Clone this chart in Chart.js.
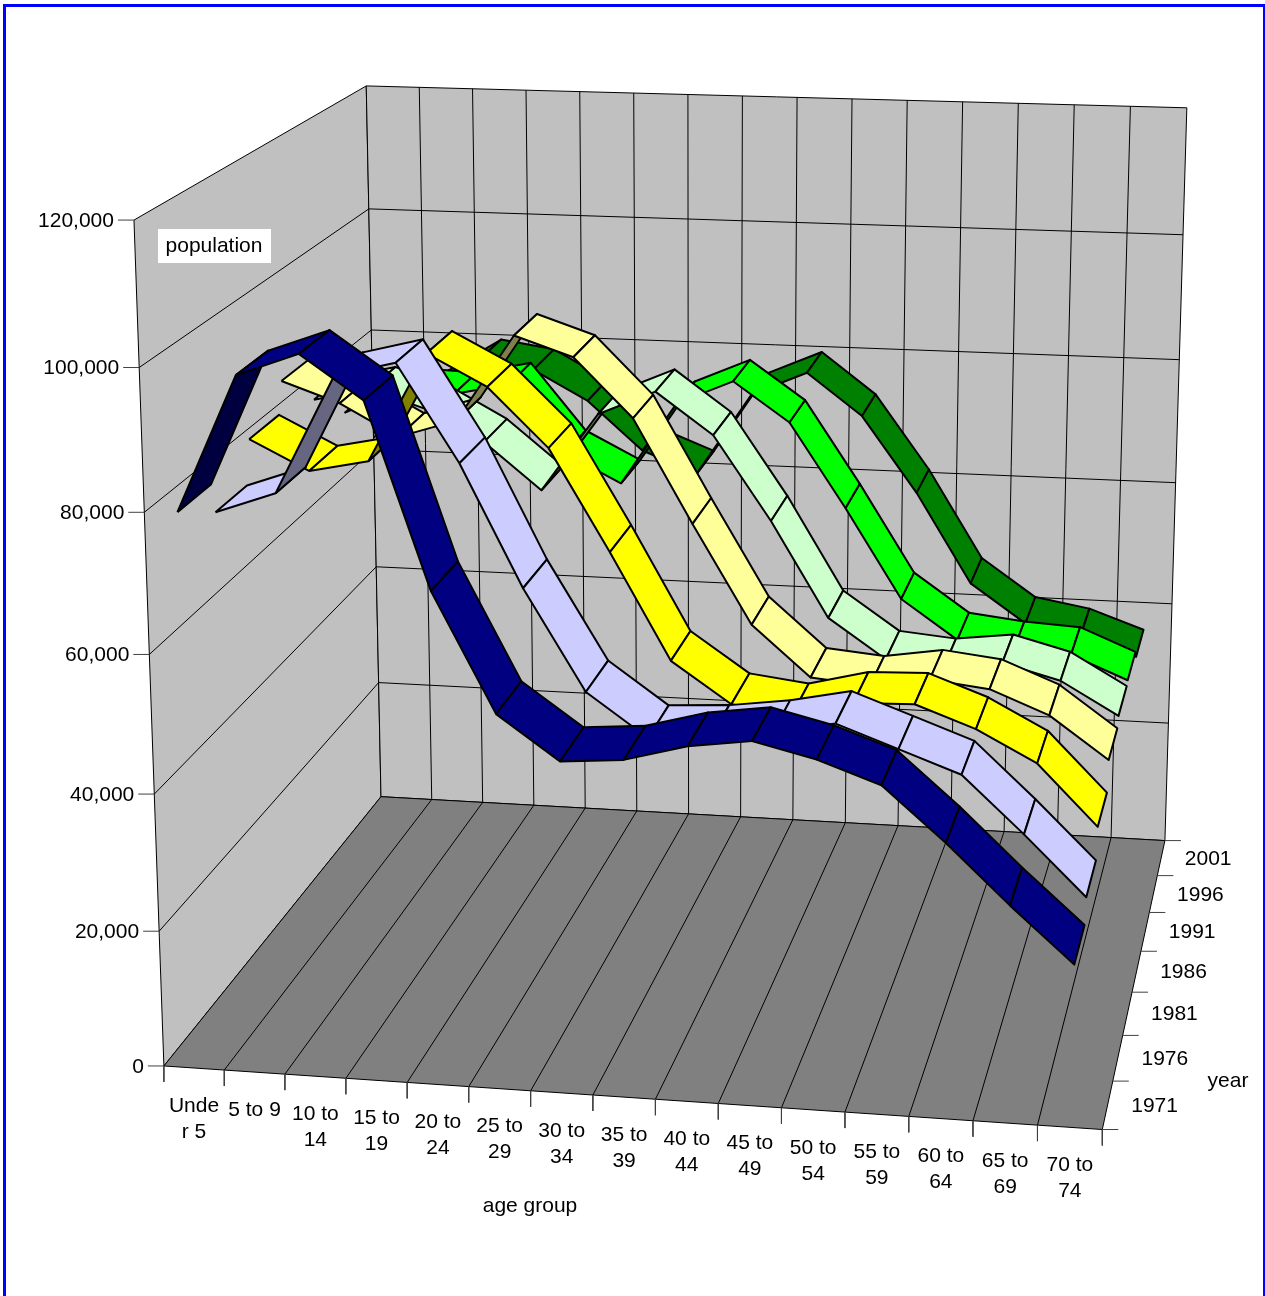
<!DOCTYPE html>
<html>
<head>
<meta charset="utf-8">
<title>population by age group and year</title>
<script src="https://cdn.jsdelivr.net/npm/chart.js@4"></script>
<style>
  html, body { margin: 0; padding: 0; background: #fff; overflow: hidden; }
  #page { position: relative; width: 1265px; height: 1296px; overflow: hidden; }
  #frame { position: absolute; left: 3px; top: 4px; width: 1257px; height: 1400px; border: 3px solid #0000ff; }
  #c { position: absolute; left: 0; top: 0; }
</style>
</head>
<body>
<div id="page">
  <div id="frame"></div>
  <canvas id="c" width="1265" height="1296"></canvas>
</div>
<script>
// Chart values
const categories = [['Unde', 'r 5'], ['5 to 9'], ['10 to', '14'], ['15 to', '19'], ['20 to', '24'], ['25 to', '29'],
    ['30 to', '34'], ['35 to', '39'], ['40 to', '44'], ['45 to', '49'], ['50 to', '54'], ['55 to', '59'],
    ['60 to', '64'], ['65 to', '69'], ['70 to', '74']];
const years = ['1971', '1976', '1981', '1986', '1991', '1996', '2001'];
const valueTicks = [0, 20000, 40000, 60000, 80000, 100000, 120000];
const pop1971 = [80000, 99300, 102500, 96500, 70600, 53800, 47600, 48300, 50700, 51900, 49800, 46700, 39100, 30800, 23000];
const pop1976 = [75600, 78700, 95700, 97900, 84100, 66700, 52200, 46000, 46500, 47700, 49500, 46300, 43100, 35000, 26400];
const pop1981 = [82000, 77700, 79500, 95500, 91000, 82500, 67700, 52100, 46100, 45000, 47200, 47500, 44300, 39700, 30800];
const pop1986 = [86700, 83700, 79000, 81800, 94800, 91900, 83200, 67800, 53000, 45400, 44600, 46000, 45000, 41500, 35200];
const pop1991 = [80000, 82000, 79200, 74500, 67400, 79500, 83300, 77000, 64200, 49600, 43600, 42800, 43900, 41600, 36600];
const pop1996 = [74000, 78000, 77700, 79600, 69000, 64600, 77600, 81400, 75300, 62200, 48200, 42100, 41100, 40600, 37000];
const pop2001 = [66000, 74000, 79400, 78100, 73400, 65700, 62300, 75500, 79300, 72700, 60700, 46400, 40300, 38800, 35700];
const seriesValues = [pop1971, pop1976, pop1981, pop1986, pop1991, pop1996, pop2001];

const topColors = ['#000080', '#ccccff', '#ffff00', '#ffff99', '#ccffcc', '#00ff00', '#008000'];
const underColors = ['#000040', '#666680', '#808000', '#80804d', '#668066', '#008000', '#004000'];

const maxValue = 120000;
const ribbonHalfDepth = 0.45;   // in year cells

// Camera: box position (age, year, value; all 0..1) -> page pixel, fitted to the box corners
const cameraFit = [
    [0, 0, 0, 164, 1066], [1, 0, 0, 1102, 1130], [1, 1, 0, 1165, 840], [0, 1, 0, 381, 797],
    [0, 0, 1, 134, 220], [0, 1, 1, 366, 86], [1, 1, 1, 1187, 108], [0, 0, 0.5, 149.5, 654]
];

function solveCamera(fit) {
    const A = [], b = [];
    fit.forEach(([X, Y, Z, x, y]) => {
        A.push([X, Y, Z, 1, 0, 0, 0, 0, -x * X, -x * Y, -x * Z]); b.push(x);
        A.push([0, 0, 0, 0, X, Y, Z, 1, -y * X, -y * Y, -y * Z]); b.push(y);
    });
    const n = 11;
    const M = [];
    for (let r = 0; r < n; r++) {
        M.push([]);
        for (let c = 0; c < n; c++) M[r].push(A.reduce((s, row) => s + row[r] * row[c], 0));
        M[r].push(A.reduce((s, row, k) => s + row[r] * b[k], 0));
    }
    for (let p = 0; p < n; p++) {
        let best = p;
        for (let r = p + 1; r < n; r++) if (Math.abs(M[r][p]) > Math.abs(M[best][p])) best = r;
        [M[p], M[best]] = [M[best], M[p]];
        for (let r = 0; r < n; r++) {
            if (r === p) continue;
            const f = M[r][p] / M[p][p];
            for (let c = p; c <= n; c++) M[r][c] -= f * M[p][c];
        }
    }
    return M.map((row, i) => row[n] / row[i]);
}
const cam = solveCamera(cameraFit);

function project(u, v, w) {
    const d = cam[8] * u + cam[9] * v + cam[10] * w + 1;
    return {
        x: (cam[0] * u + cam[1] * v + cam[2] * w + cam[3]) / d,
        y: (cam[4] * u + cam[5] * v + cam[6] * w + cam[7]) / d
    };
}

// Every mark is one dataset; they are collected back to front
const marks = [];
function addPolygon(points, fillColor, lineColor, lineWidth) {
    marks.push({
        data: points.concat([points[0]]),
        showLine: true, fill: 'shape', tension: 0, pointRadius: 0,
        backgroundColor: fillColor, borderColor: lineColor, borderWidth: lineWidth,
        borderJoinStyle: 'round'
    });
}
function addLine(a, b, color, lineWidth) {
    marks.push({
        data: [a, b], showLine: true, fill: false, tension: 0, pointRadius: 0,
        borderColor: color, borderWidth: lineWidth
    });
}

// Walls and floor
addPolygon([project(0, 0, 0), project(0, 1, 0), project(0, 1, 1), project(0, 0, 1)], '#c0c0c0', '#000', 1);
addPolygon([project(0, 1, 0), project(1, 1, 0), project(1, 1, 1), project(0, 1, 1)], '#c0c0c0', '#000', 1);
addPolygon([project(0, 0, 0), project(1, 0, 0), project(1, 1, 0), project(0, 1, 0)], '#808080', '#000', 1);

valueTicks.forEach((t, k) => {
    if (k === 0 || k === valueTicks.length - 1) return;
    const w = t / maxValue;
    addLine(project(0, 0, w), project(0, 1, w), '#000', 1);
    addLine(project(0, 1, w), project(1, 1, w), '#000', 1);
});
for (let i = 1; i < categories.length; i++) {
    const u = i / categories.length;
    addLine(project(u, 1, 0), project(u, 1, 1), '#000', 1);
    addLine(project(u, 0, 0), project(u, 1, 0), '#000', 1);
}

// Axis ticks
const tickLength = 16;
valueTicks.forEach(t => {
    const p = project(0, 0, t / maxValue);
    addLine(p, { x: p.x - tickLength, y: p.y }, '#404040', 1);
});
for (let i = 0; i <= categories.length; i++) {
    const p = project(i / categories.length, 0, 0);
    addLine(p, { x: p.x, y: p.y + tickLength }, '#404040', 1);
}
for (let j = 0; j <= years.length; j++) {
    const p = project(1, j / years.length, 0);
    addLine(p, { x: p.x + tickLength, y: p.y }, '#404040', 1);
}

// Ribbons, back series first, left to right inside a series
function signedArea(pts) {
    let s = 0;
    pts.forEach((p, k) => {
        const q = pts[(k + 1) % pts.length];
        s += p.x * q.y - q.x * p.y;
    });
    return s / 2;
}
for (let j = years.length - 1; j >= 0; j--) {
    const values = seriesValues[j];
    const vFront = (j + 0.5 - ribbonHalfDepth) / years.length;
    const vBack = (j + 0.5 + ribbonHalfDepth) / years.length;
    for (let i = 0; i < values.length - 1; i++) {
        const u0 = (i + 0.5) / categories.length;
        const u1 = (i + 1.5) / categories.length;
        const w0 = values[i] / maxValue;
        const w1 = values[i + 1] / maxValue;
        const quad = [project(u0, vFront, w0), project(u1, vFront, w1), project(u1, vBack, w1), project(u0, vBack, w0)];
        addPolygon(quad, signedArea(quad) > 0 ? underColors[j] : topColors[j], '#000', 2);
    }
}

// Text labels, placed from the same projection
const labelsPlugin = {
    id: 'axisLabels',
    afterDatasetsDraw(chart) {
        const ctx = chart.ctx;
        ctx.save();
        ctx.font = '21px "Liberation Sans", Arial, sans-serif';
        ctx.fillStyle = '#000';
        ctx.textBaseline = 'middle';

        ctx.textAlign = 'right';
        valueTicks.forEach(t => {
            const p = project(0, 0, t / maxValue);
            ctx.fillText(t.toLocaleString('en-US'), p.x - tickLength - 4, p.y + 1);
        });

        ctx.textAlign = 'center';
        categories.forEach((lines, i) => {
            const p = project((i + 0.5) / categories.length, 0, 0);
            lines.forEach((line, k) => ctx.fillText(line, p.x, p.y + 38 + k * 26));
        });
        years.forEach((year, j) => {
            const p = project(1, (j + 0.5) / years.length, 0);
            ctx.fillText(year, p.x + 47, p.y + 1);
        });

        ctx.fillText('year', 1228, 1081);
        ctx.fillText('age group', 530, 1206);

        ctx.fillStyle = '#fff';
        ctx.fillRect(158, 229, 113, 34);
        ctx.fillStyle = '#000';
        ctx.fillText('population', 214, 246);
        ctx.restore();
    }
};

new Chart(document.getElementById('c').getContext('2d'), {
    type: 'scatter',
    data: { datasets: marks.slice().reverse() },
    options: {
        responsive: false,
        animation: false,
        clip: false,
        layout: { padding: 0 },
        plugins: { legend: { display: false }, title: { display: false }, tooltip: { enabled: false } },
        scales: {
            x: { type: 'linear', display: false, min: 0, max: 1265 },
            y: { type: 'linear', display: false, min: 0, max: 1296, reverse: true }
        }
    },
    plugins: [labelsPlugin]
});
</script>
</body>
</html>
